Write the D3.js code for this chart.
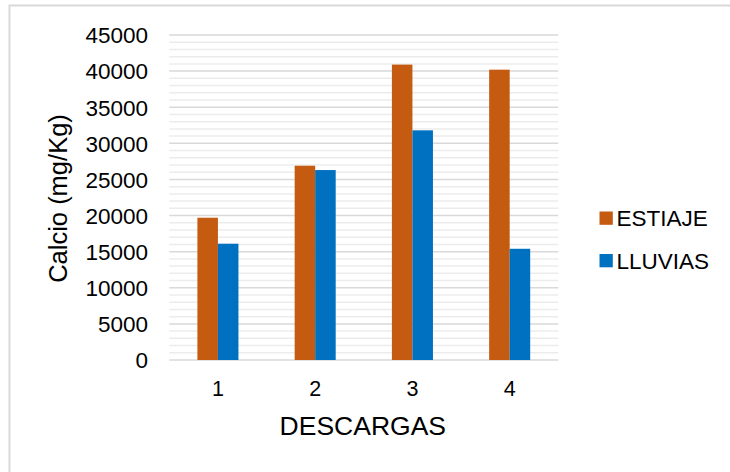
<!DOCTYPE html>
<html><head><meta charset="utf-8">
<script src="https://cdn.jsdelivr.net/npm/d3@7"></script>
<style>html,body{margin:0;padding:0;background:#fff;}svg{display:block;}</style>
</head><body>
<svg id="chart" width="730" height="472"></svg>
<script>
const categories = ["1", "2", "3", "4"];
const seriesNames = ["ESTIAJE", "LLUVIAS"];
const estiaje = [19700, 26900, 40900, 40200];
const lluvias = [16100, 26300, 31800, 15400];
const yTicks = [0, 5000, 10000, 15000, 20000, 25000, 30000, 35000, 40000, 45000];
const colors = ["#C55A11", "#0070C0"];
const xTitle = "DESCARGAS";
const yTitle = "Calcio (mg/Kg)";

(function () {
const svg = d3.select("#chart");
const font = "'Liberation Sans', Arial, sans-serif";

// outer frame
svg.append("rect").attr("x", 9.5).attr("y", 5.5).attr("width", 740).attr("height", 480)
  .attr("fill", "#fff").attr("stroke", "#d9d9d9").attr("stroke-width", 2);

const pl = 169.3, pr = 558.3, pt = 35, pb = 360;
const y = d3.scaleLinear().domain([0, 45000]).range([pb, pt]);
const x0 = d3.scaleBand().domain(categories).range([pl, pr]).paddingInner(0.578).paddingOuter(0.289);
const x1 = d3.scaleBand().domain(seriesNames).range([0, x0.bandwidth()]).padding(0);

// minor gridlines
const minor = d3.range(1000, 45000, 1000).filter(v => v % 5000 !== 0);
svg.append("g").selectAll("line").data(minor).join("line")
  .attr("x1", pl).attr("x2", pr).attr("y1", d => y(d)).attr("y2", d => y(d))
  .attr("stroke", "#ececec").attr("stroke-width", 1.5);
// major gridlines
svg.append("g").selectAll("line").data(yTicks).join("line")
  .attr("x1", pl).attr("x2", pr).attr("y1", d => y(d)).attr("y2", d => y(d))
  .attr("stroke", "#d9d9d9").attr("stroke-width", 1.5);

// y axis labels
const yAxis = d3.axisLeft(y).tickValues(yTicks).tickSize(0).tickPadding(0).tickFormat(d3.format("d"));
const gy = svg.append("g").attr("transform", `translate(148,0)`).call(yAxis);
gy.select(".domain").remove();
gy.selectAll("text").attr("font-family", font).attr("font-size", 22.5).attr("fill", "#000").attr("dy", "0.35em");

// x axis labels
const xAxis = d3.axisBottom(x0).tickSize(0).tickPadding(0);
const gx = svg.append("g").attr("transform", `translate(0,381)`).call(xAxis);
gx.select(".domain").remove();
gx.selectAll("text").attr("font-family", font).attr("font-size", 21.5).attr("fill", "#000").attr("dy", "0.71em");

// bars
const data = categories.map((c, i) => ({ cat: c, vals: [estiaje[i], lluvias[i]] }));
const groups = svg.append("g").selectAll("g").data(data).join("g")
  .attr("transform", d => `translate(${x0(d.cat)},0)`);
groups.selectAll("rect").data(d => d.vals.map((v, j) => ({ name: seriesNames[j], v, j })))
  .join("rect")
  .attr("x", d => x1(d.name)).attr("width", x1.bandwidth())
  .attr("y", d => y(d.v)).attr("height", d => y(0) - y(d.v))
  .attr("fill", d => colors[d.j]);

// axis titles
svg.append("text").attr("x", (pl + pr) / 2 - 1).attr("y", 435).attr("text-anchor", "middle")
  .attr("font-family", font).attr("font-size", 26.5).attr("fill", "#000").text(xTitle);
svg.append("text").attr("transform", `translate(67,${(pt + pb) / 2 + 1}) rotate(-90)`)
  .attr("text-anchor", "middle").attr("font-family", font).attr("font-size", 25.5).attr("fill", "#000").text(yTitle);

// legend
const legend = svg.append("g").selectAll("g").data(seriesNames).join("g")
  .attr("transform", (d, i) => `translate(599.5,${211.5 + i * 42.5})`);
legend.append("rect").attr("width", 13.3).attr("height", 13.3).attr("fill", (d, i) => colors[i]);
legend.append("text").attr("x", 17).attr("y", 14.8).attr("font-family", font).attr("font-size", 22.5)
  .attr("fill", "#000").text(d => d);
})();
</script>
</body></html>
